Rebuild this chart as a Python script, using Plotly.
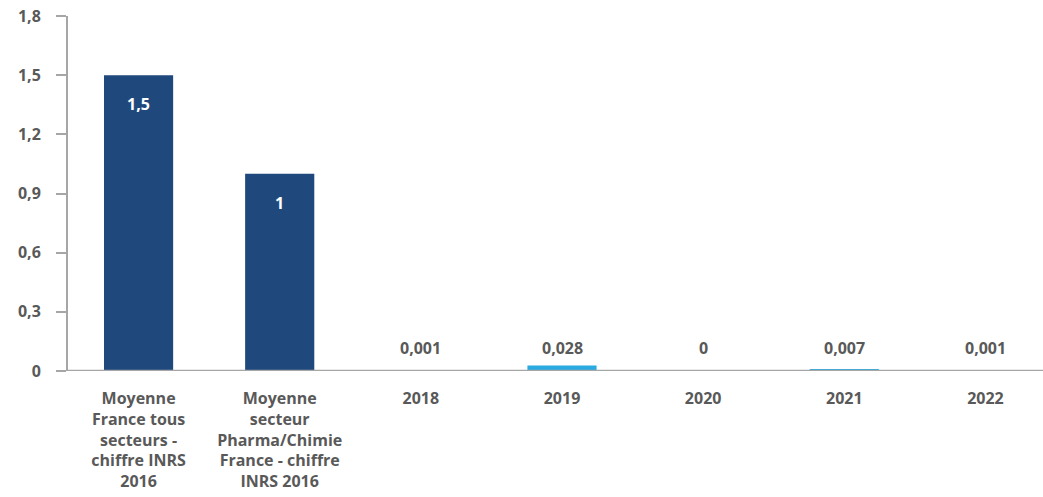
import plotly.graph_objects as go

categories = [
    "Moyenne<br>France tous<br>secteurs -<br>chiffre INRS<br>2016",
    "Moyenne<br>secteur<br>Pharma/Chimie<br>France - chiffre<br>INRS 2016",
    "2018", "2019", "2020", "2021", "2022",
]
values = [1.5, 1.0, 0.001, 0.028, 0.0, 0.007, 0.001]
labels = ["1,5", "1", "0,001", "0,028", "0", "0,007", "0,001"]
colors = ["#1F497D", "#1F497D", "#29ABE2", "#29ABE2", "#29ABE2", "#29ABE2", "#29ABE2"]
y_ticks = [0, 0.3, 0.6, 0.9, 1.2, 1.5, 1.8]
y_tick_text = ["0", "0,3", "0,6", "0,9", "1,2", "1,5", "1,8"]

font_family = "'Open Sans', sans-serif"
grey = "#595959"
axis_grey = "#A6A6A6"
fs = 16

fig = go.Figure(go.Bar(
    x=categories, y=values,
    marker=dict(color=colors, line=dict(width=0)),
    hoverinfo="x+y",
))

annotations = []
for i, (v, lab) in enumerate(zip(values, labels)):
    inside = v > 0.5
    annotations.append(dict(
        x=i, y=v if inside else 0, xref="x", yref="y", text=lab, showarrow=False,
        yanchor="top" if inside else "bottom",
        yshift=-16 if inside else 10,
        font=dict(size=fs, family=font_family, weight="bold",
                  color="white" if inside else grey),
    ))

fig.update_layout(
    width=1060, height=497,
    margin=dict(l=68, r=4, t=16, b=126),
    plot_bgcolor="white", paper_bgcolor="white",
    bargap=0.51,
    showlegend=False,
    font=dict(family=font_family, color=grey, size=fs),
    annotations=annotations,
    shapes=[dict(type="line", xref="paper", yref="y", x0=0, x1=1, y0=0, y1=0,
                 line=dict(color=axis_grey, width=2.5), layer="above")],
)
fig.update_xaxes(
    type="category",
    showline=False,
    ticks="", showgrid=False,
    tickfont=dict(size=fs, color=grey, family=font_family, weight="bold"),
    tickangle=0, automargin=False, ticklabelstandoff=16,
)
fig.update_yaxes(
    range=[0, 1.8], tickvals=y_ticks, ticktext=y_tick_text,
    showline=True, linecolor=axis_grey, linewidth=2,
    ticks="outside", ticklen=10, tickcolor=axis_grey, tickwidth=2,
    showgrid=False, zeroline=False,
    tickfont=dict(size=fs, color=grey, family=font_family, weight="bold"),
    ticklabelstandoff=12, automargin=False,
)

fig.write_html(
    "out.html",
    config={"displayModeBar": False},
    post_script="document.body.style.margin='0';document.body.style.overflow='hidden';",
)
